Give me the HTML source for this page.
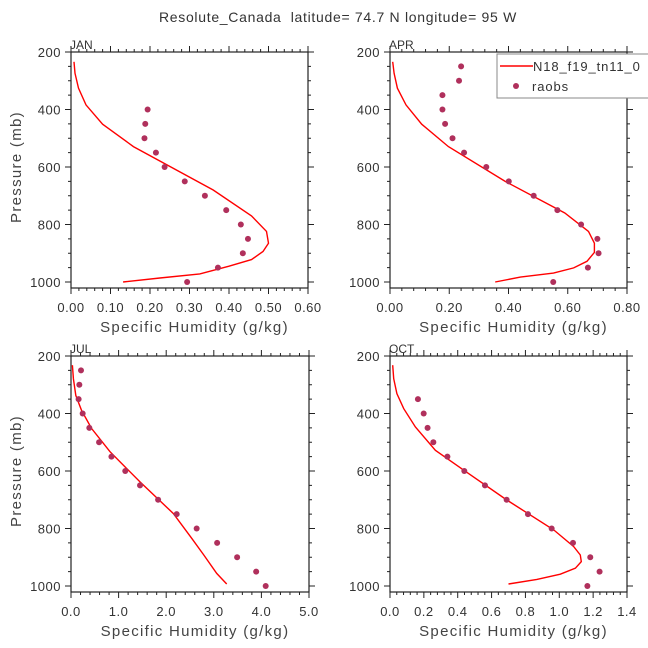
<!DOCTYPE html>
<html><head><meta charset="utf-8"><style>
html,body{margin:0;padding:0;background:#fff;}
svg{display:block;font-family:"Liberation Sans",sans-serif;}
</style></head><body>
<svg id="chart" width="648" height="648" viewBox="0 0 648 648" xmlns="http://www.w3.org/2000/svg">
<text x="338" y="22" text-anchor="middle" font-size="14" letter-spacing="0.7" fill="#333" style="white-space:pre">Resolute_Canada  latitude= 74.7 N longitude= 95 W</text>
</svg>
<script>
const obsP=[250,300,350,400,450,500,550,600,650,700,750,800,850,900,950,1000];
const janObs=[null,null,null,0.194,0.188,0.186,0.215,0.237,0.288,0.339,0.393,0.43,0.448,0.435,0.372,0.294];
const aprObs=[0.24,0.233,0.177,0.177,0.186,0.211,0.25,0.325,0.401,0.485,0.565,0.645,0.70,0.704,0.668,0.551];
const julObs=[0.21,0.175,0.16,0.245,0.385,0.59,0.85,1.14,1.45,1.83,2.22,2.64,3.07,3.49,3.89,4.09];
const octObs=[null,null,0.165,0.199,0.222,0.256,0.339,0.439,0.561,0.689,0.815,0.955,1.081,1.183,1.238,1.166];
const janLineP=[234,274,326,384,451,529,680,770,824,865,894,922,945,972,986,1000];
const janLine=[0.0076,0.01,0.019,0.038,0.08,0.158,0.36,0.457,0.495,0.50,0.486,0.457,0.40,0.326,0.225,0.132];
const aprLineP=[234,274,326,384,451,529,650,760,824,865,897,928,951,969,983,1000];
const aprLine=[0.009,0.014,0.025,0.054,0.107,0.197,0.389,0.59,0.67,0.69,0.69,0.665,0.62,0.552,0.44,0.355];
const julLineP=[232,279,337,389,452,533,638,748,835,892,956,993];
const julLine=[0.03,0.05,0.1,0.22,0.43,0.82,1.45,2.15,2.54,2.79,3.06,3.27];
const octLineP=[232,279,331,383,447,528,605,701,805,863,892,915,938,959,977,993];
const octLine=[0.016,0.022,0.041,0.081,0.15,0.268,0.455,0.69,0.967,1.085,1.124,1.13,1.095,1.006,0.868,0.70];
const janTicks=["0.00","0.10","0.20","0.30","0.40","0.50","0.60"];
const aprTicks=["0.00","0.20","0.40","0.60","0.80"];
const julTicks=["0.0","1.0","2.0","3.0","4.0","5.0"];
const octTicks=["0.0","0.2","0.4","0.6","0.8","1.0","1.2","1.4"];
const yTicks=[200,400,600,800,1000];

const NS="http://www.w3.org/2000/svg";
const svg=document.getElementById('chart');
function mk(tag,attrs,parent){const e=document.createElementNS(NS,tag);for(const k in attrs)e.setAttribute(k,attrs[k]);(parent||svg).appendChild(e);return e;}

function panel(name,x0,x1,y0,ticks,xmax,lineP,lineV,obsV,showYTitle){
  const g=mk('g',{});
  
  
  const yTop=y0, y1000=y0+230, yBot=y0+236;
  const sx=v=>x0+(v/xmax)*(x1-x0);
  const sy=p=>yTop+(p-200)/800*(y1000-yTop);
  const fr=mk('rect',{x:x0,y:yTop,width:x1-x0,height:yBot-yTop,fill:'none',stroke:'#222','stroke-width':1.2},g);
  
  
  const nmaj=ticks.length-1, nmin=nmaj*5;
  let d='';
  for(let i=0;i<=nmin;i++){const x=x0+(x1-x0)*i/nmin;const L=i%5==0?6:3;d+=`M${x},${yBot}v${L}M${x},${yTop}v${-L}`;}
  for(let p=200;p<=1000;p+=50){const y=sy(p);const L=p%200==0?6:3;d+=`M${x0},${y}h${-L}M${x1},${y}h${L}`;}
  const tk=mk('path',{d:d,stroke:'#222','stroke-width':1,fill:'none'},g);
  
  
  ticks.forEach((t,i)=>{const e=mk('text',{x:x0+(x1-x0)*i/nmaj,y:yBot+24,'text-anchor':'middle','font-size':13,'letter-spacing':0.5,fill:'#333'},g);e.textContent=t;
    
    });
  yTicks.forEach(p=>{const e=mk('text',{x:x0-10,y:sy(p)+5,'text-anchor':'end','font-size':13,'letter-spacing':0.5,fill:'#333'},g);e.textContent=p;
    
    });
  const xt=mk('text',{x:(x0+x1)/2+5,y:yBot+44,'text-anchor':'middle','font-size':15,'letter-spacing':1.3,fill:'#444'},g);xt.textContent='Specific Humidity (g/kg)';
  
  
  if(showYTitle){const yt=mk('text',{x:0,y:0,'text-anchor':'middle','font-size':15,'letter-spacing':1.3,fill:'#444',transform:`translate(21,${(yTop+yBot)/2-3}) rotate(-90)`},g);yt.textContent='Pressure (mb)';
    
    }
  const lb=mk('text',{x:x0-1,y:yTop-3,'font-size':12,fill:'#333'},g);lb.textContent=name.toUpperCase();
  
  
  const pts=lineV.map((v,i)=>sx(v).toFixed(1)+','+sy(lineP[i]).toFixed(1)).join(' ');
  const pl=mk('polyline',{points:pts,fill:'none',stroke:'#ff0000','stroke-width':1.4},g);
  
  
  obsV.forEach((v,i)=>{if(v==null)return;const c=mk('circle',{cx:sx(v),cy:sy(obsP[i]),r:3,fill:'#b0305c'},g);
    
    });
}
panel('jan',71,308,52,janTicks,0.6,janLineP,janLine,janObs,true);
panel('apr',390,627,52,aprTicks,0.8,aprLineP,aprLine,aprObs,false);
panel('jul',71,309,356,julTicks,5.0,julLineP,julLine,julObs,true);
panel('oct',390,627,356,octTicks,1.4,octLineP,octLine,octObs,false);

const lg=mk('g',{});


mk('rect',{x:497,y:54,width:160,height:44,fill:'#fff',stroke:'#888','stroke-width':1},lg);
const ll=mk('line',{x1:500,y1:66,x2:533,y2:66,stroke:'#ff0000','stroke-width':1.4},lg);


const lt1=mk('text',{x:533,y:71,'font-size':13,'letter-spacing':0.9,fill:'#333'},lg);lt1.textContent='N18_f19_tn11_0';


const ld=mk('circle',{cx:516,cy:86,r:3,fill:'#b0305c'},lg);


const lt2=mk('text',{x:532,y:91,'font-size':13,'letter-spacing':0.9,fill:'#333'},lg);lt2.textContent='raobs';


</script>
</body></html>
